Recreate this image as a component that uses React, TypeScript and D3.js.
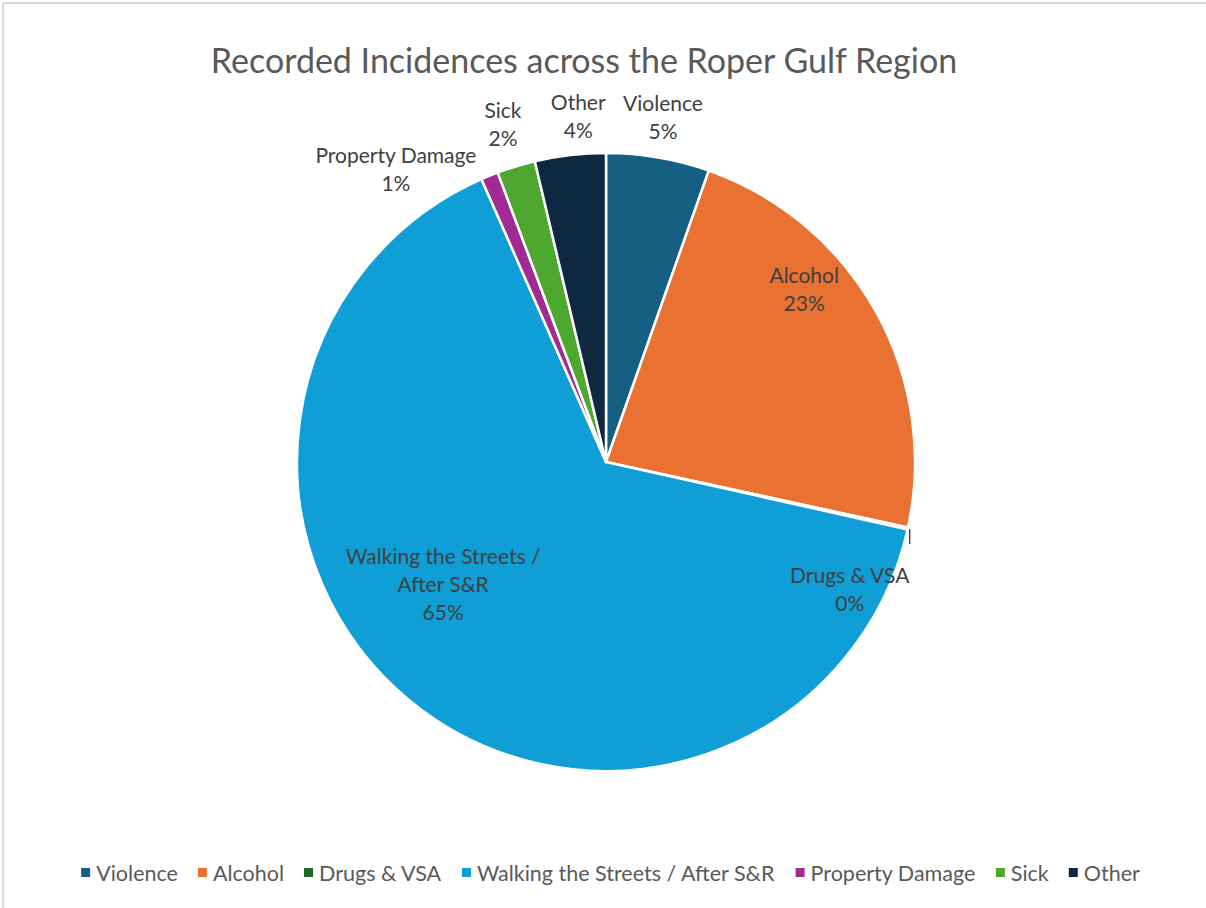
import React, { useMemo } from "react";
import * as d3 from "d3";

const categories = ["Violence", "Alcohol", "Drugs & VSA", "Walking the Streets / After S&R", "Property Damage", "Sick", "Other"];
const values = [54, 230, 1, 649, 9, 20, 37];
const colors = ["#156082", "#E97132", "#196B24", "#0F9ED5", "#A02B93", "#4EA72E", "#0E2841"];
// label lines (as shown in the chart)
const labelLines = [["Violence"], ["Alcohol"], ["Drugs & VSA"], ["Walking the Streets /", "After S&R"], ["Property Damage"], ["Sick"], ["Other"]];
// label placement: angle (deg, from 12 o'clock clockwise), radius as fraction of pie radius
const labelAngles = [9.4, 49, 117.6, 233, -35.7, -17, -4.6];
const labelRadius = [1.13, 0.85, 0.89, 0.66, 1.165, 1.14, 1.12];

const W = 1206, H = 908;
const FONT = "Lato, 'Noto Sans', sans-serif";

function measure(text: string, size: number) {
  if (typeof document === "undefined") return text.length * size * 0.5;
  const c = document.createElement("canvas");
  const ctx = c.getContext("2d")!;
  ctx.font = `${size}px Lato`;
  return ctx.measureText(text).width;
}

export default function App() {
  const cx = 606, cy = 462, R = 309;
  const total = d3.sum(values);
  const pie = d3.pie<number>().sort(null).value((d) => d)(values);
  const arc = d3.arc<d3.PieArcDatum<number>>().innerRadius(0).outerRadius(R);
  const fmt = (v: number) => `${Math.round((v / total) * 100)}%`;

  const legendSize = 21.5;
  const legend = useMemo(() => {
    const items = categories.map((c) => ({ c, w: measure(c, legendSize) }));
    const sq = 9, gapSqText = 6, gapItem = 20;
    const totalW = d3.sum(items, (d) => sq + gapSqText + d.w) + gapItem * (items.length - 1);
    let x = 610.5 - totalW / 2;
    return items.map((d, i) => {
      const r = { ...d, x, i };
      x += sq + gapSqText + d.w + gapItem;
      return r;
    });
  }, []);

  // leader line for Drugs & VSA
  const drugArc = pie[2];
  const dMid = (drugArc.startAngle + drugArc.endAngle) / 2;
  const lx = cx + Math.sin(dMid) * (R + 2);
  const ly = cy - Math.cos(dMid) * (R + 2);

  return (
    <svg width={W} height={H} style={{ display: "block", position: "absolute", left: 0, top: 0 }}>
      <rect x={0} y={0} width={W} height={H} fill="#fff" />
      <line x1={3} y1={3} x2={W} y2={3} stroke="#d9d9d9" strokeWidth={2} />
      <line x1={3} y1={3} x2={3} y2={H} stroke="#d9d9d9" strokeWidth={2} />
      <text x={584} y={73} textAnchor="middle" fontFamily={FONT} fontSize={34} fill="#595959">
        Recorded Incidences across the Roper Gulf Region
      </text>
      <g transform={`translate(${cx},${cy})`}>
        {pie.map((p, i) => (
          <path key={i} d={arc(p) || ""} fill={colors[i]} stroke="#fff" strokeWidth={2.5} strokeLinejoin="round" />
        ))}
      </g>
      <line x1={lx} y1={ly} x2={lx} y2={ly + 15} stroke="#262626" strokeWidth={1.2} />
      {pie.map((p, i) => {
        const a = (labelAngles[i] * Math.PI) / 180;
        const r = R * labelRadius[i];
        const x = cx + Math.sin(a) * r;
        const y = cy - Math.cos(a) * r;
        const lines = [...labelLines[i], fmt(values[i])];
        const lh = 28;
        const y0 = y - ((lines.length - 1) * lh) / 2;
        return (
          <text key={i} textAnchor="middle" fontFamily={FONT} fontSize={21} fill="#404040">
            {lines.map((l, j) => (
              <tspan key={j} x={x} y={y0 + j * lh} dy="0.35em">{l}</tspan>
            ))}
          </text>
        );
      })}
      {legend.map((d) => (
        <g key={d.i}>
          <rect x={d.x} y={868} width={9} height={9} fill={colors[d.i]} />
          <text x={d.x + 15} y={873} dy="0.35em" fontFamily={FONT} fontSize={legendSize} fill="#595959">{d.c}</text>
        </g>
      ))}
    </svg>
  );
}
